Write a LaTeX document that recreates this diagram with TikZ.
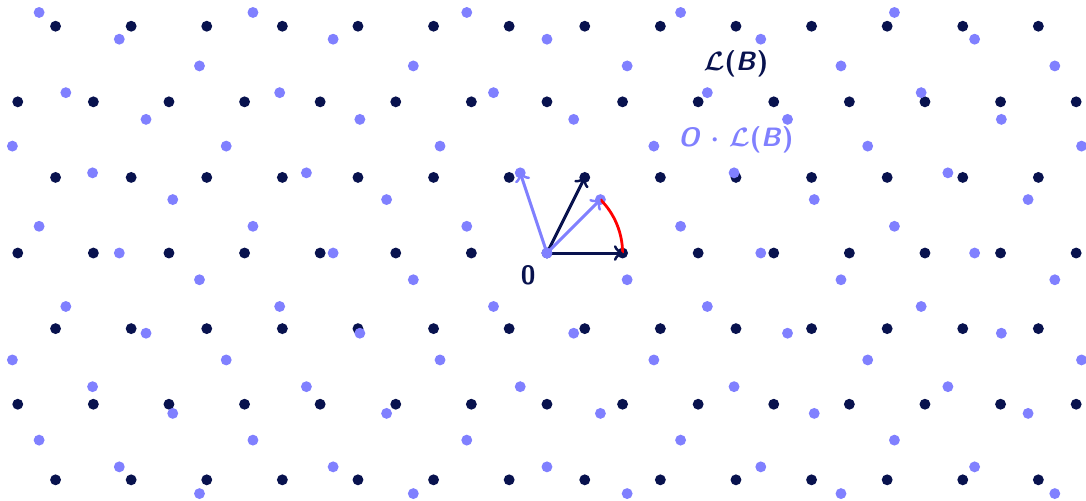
\documentclass[tikz,border=0pt]{standalone}
\usepackage{amsmath}
\usepackage{bm}
\definecolor{navy}{RGB}{8,18,78}
\definecolor{lav}{RGB}{128,128,255}
\tikzset{
  darkdot/.style={fill=navy},
  lightdot/.style={fill=lav},
  vecdark/.style={->, draw=navy, line width=1.15pt},
  veclight/.style={->, draw=lav, line width=1.15pt},
  anglearc/.style={draw=red, line width=1.05pt},
  lbl/.style={font=\boldmath\sffamily\bfseries, inner sep=0pt}
}
\begin{document}
\begin{tikzpicture}
\useasboundingbox (-7.235,-3.280) rectangle (7.130,3.347);
\clip (-7.235,-3.280) rectangle (7.130,3.347);
% dark lattice L(B)
\foreach \j in {-5,...,5}{
  \foreach \i in {-12,...,12}{
    \fill[darkdot] ({\i+0.5*\j},\j) circle (0.072);
  }
}
% rotated lattice O.L(B)
\begin{scope}[rotate=45]
\foreach \j in {-9,...,9}{
  \foreach \i in {-14,...,14}{
    \fill[lightdot] ({\i+0.5*\j},\j) circle (0.072);
  }
}
\end{scope}
\coordinate (o) at (0,0);
\coordinate (b1) at (1,0);
\coordinate (b2) at (0.5,1);
\coordinate (rb1) at (45:1);
\coordinate (rb2) at ({0.5*cos(45)-sin(45)},{0.5*sin(45)+cos(45)});
\draw[anglearc] (b1) arc (0:45:1);
\draw[vecdark] (o) -- (b1);
\draw[vecdark] (o) -- (b2);
\draw[veclight] (o) -- (rb1);
\draw[veclight] (o) -- (rb2);
\fill[lightdot] (o) circle (0.072);
\node[lbl, text=navy] (zero) at (-0.25,-0.29) {0};
\node[lbl, text=navy] (lab1) at (2.5,2.5) {$\mathcal{L}$(\textit{B})};
\node[lbl, text=lav] (lab2) at (2.5,1.5) {\textit{O} $\cdot$ $\mathcal{L}$(\textit{B})};
\end{tikzpicture}
\end{document}
